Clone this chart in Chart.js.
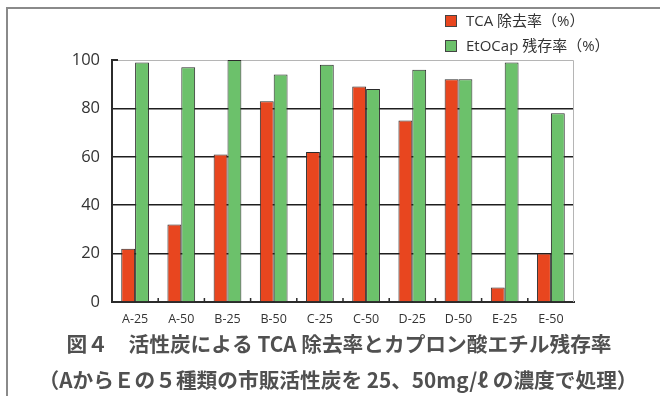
<!DOCTYPE html>
<html lang="ja">
<head>
<meta charset="utf-8">
<title>活性炭による TCA 除去率とカプロン酸エチル残存率</title>
<script src="https://cdn.jsdelivr.net/npm/chart.js@4.4.1/dist/chart.umd.min.js"></script>
<style>
  html, body { margin: 0; padding: 0; background: #fff; }
  #wrap { position: relative; width: 660px; height: 396px; }
  #frame { position: absolute; left: 6px; top: 7px; right: 0; bottom: 0;
           border-left: 2px solid #8a8a8a; border-top: 2px solid #8a8a8a; pointer-events: none; }
  canvas { position: absolute; left: 0; top: 0; }
</style>
</head>
<body>
<div id="wrap">
  <canvas id="chart" width="660" height="396"></canvas>
  <div id="frame"></div>
</div>
<script>
// 試料（活性炭の種類と添加濃度 mg/ℓ）
const categories = ['A-25', 'A-50', 'B-25', 'B-50', 'C-25', 'C-50', 'D-25', 'D-50', 'E-25', 'E-50'];
// TCA 除去率（%）
const tcaRemoval = [22, 32, 61, 83, 62, 89, 75, 92, 6, 20];
// カプロン酸エチル（EtOCap）残存率（%）
const etocapResidual = [99, 97, 100, 94, 98, 88, 96, 92, 99, 78];
const yTicks = [0, 20, 40, 60, 80, 100];
const seriesLabels = ['TCA 除去率（%）', 'EtOCap 残存率（%）'];
const titleLines = [
  '図４　活性炭による TCA 除去率とカプロン酸エチル残存率',
  '（AからＥの５種類の市販活性炭を 25、50mg/ℓ の濃度で処理）'
];

const RED = '#e8461f';
const GREEN = '#6cc16b';
const EDGE = '#2b2b2b';
const LATIN = '"Open Sans", "Noto Sans CJK JP", sans-serif';
const JP = '"Noto Sans CJK JP", "Open Sans", sans-serif';

// 枠（上・右の細線）、100 の目盛り、x 軸の区切り目盛り
const framePlugin = {
  id: 'frameLines',
  beforeDatasetsDraw(chart) {
    const { ctx, chartArea: a, scales } = chart;
    ctx.save();
    ctx.strokeStyle = '#b5b5b5';
    ctx.lineWidth = 1;
    ctx.beginPath();
    ctx.moveTo(a.left, a.top + 0.5);
    ctx.lineTo(a.right - 0.5, a.top + 0.5);
    ctx.lineTo(a.right - 0.5, a.bottom);
    ctx.stroke();
    const yTop = scales.y.getPixelForValue(100);
    ctx.strokeStyle = EDGE;
    ctx.lineWidth = 2;
    ctx.beginPath();
    ctx.moveTo(a.left, yTop);
    ctx.lineTo(a.left + 6, yTop);
    ctx.stroke();
    ctx.restore();
  },
  afterDatasetsDraw(chart) {
    const { ctx, chartArea: a, scales } = chart;
    const x = scales.x;
    ctx.save();
    ctx.strokeStyle = EDGE;
    ctx.lineWidth = 1.5;
    ctx.beginPath();
    for (let i = 1; i < categories.length; i++) {
      const px = (x.getPixelForTick(i - 1) + x.getPixelForTick(i)) / 2;
      ctx.moveTo(px, a.bottom);
      ctx.lineTo(px, a.bottom - 4);
    }
    ctx.stroke();
    ctx.restore();
  }
};

// 凡例（右上・縦並び）
const legendPlugin = {
  id: 'cornerLegend',
  afterDraw(chart) {
    const { ctx } = chart;
    const colors = [RED, GREEN];
    ctx.save();
    ctx.font = '15px ' + LATIN;
    ctx.textBaseline = 'middle';
    seriesLabels.forEach((label, i) => {
      const cy = 21 + i * 25;
      ctx.fillStyle = colors[i];
      ctx.fillRect(445, cy - 6, 12, 12);
      ctx.strokeStyle = '#444';
      ctx.lineWidth = 1;
      ctx.strokeRect(445.5, cy - 5.5, 11, 11);
      ctx.fillStyle = '#333';
      ctx.fillText(label, 466, cy + 1);
    });
    ctx.restore();
  }
};

// 図の表題（2 行）
const captionPlugin = {
  id: 'caption',
  afterDraw(chart) {
    const { ctx } = chart;
    ctx.save();
    ctx.font = 'bold 20.7px ' + JP;
    ctx.fillStyle = '#505050';
    ctx.textAlign = 'center';
    ctx.textBaseline = 'middle';
    ctx.fillText(titleLines[0], 339, 344);
    ctx.fillText(titleLines[1], 338, 380);
    ctx.restore();
  }
};

new Chart(document.getElementById('chart'), {
  type: 'bar',
  data: {
    labels: categories,
    datasets: [
      { label: seriesLabels[0], data: tcaRemoval, backgroundColor: RED,
        borderColor: EDGE, borderWidth: 1 },
      { label: seriesLabels[1], data: etocapResidual, backgroundColor: GREEN,
        borderColor: EDGE, borderWidth: 1 }
    ]
  },
  options: {
    responsive: false,
    animation: false,
    devicePixelRatio: 1,
    layout: { padding: { left: 0, right: 86, top: 60, bottom: 58 } },
    datasets: { bar: { categoryPercentage: 0.6, barPercentage: 1.0 } },
    plugins: {
      legend: { display: false },
      title: { display: false },
      tooltip: { enabled: false }
    },
    scales: {
      x: {
        afterFit(scale) { scale.height = 36; },
        grid: { drawOnChartArea: false, drawTicks: false },
        border: { display: true, color: EDGE, width: 2 },
        ticks: { color: '#333', font: { family: LATIN, size: 12.5 }, padding: 10, maxRotation: 0 }
      },
      y: {
        min: 0,
        max: 100,
        afterFit(scale) { scale.width = 112; },
        afterBuildTicks(scale) { scale.ticks = yTicks.map(v => ({ value: v })); },
        grid: {
          drawTicks: false,
          color: ctx => (ctx.tick && ctx.tick.value > 0 && ctx.tick.value < 100) ? '#1e1e1e' : 'rgba(0,0,0,0)',
          lineWidth: 1.5
        },
        border: { display: true, color: EDGE, width: 2 },
        ticks: { color: '#333', font: { family: LATIN, size: 16.5 }, padding: 12 }
      }
    }
  },
  plugins: [framePlugin, legendPlugin, captionPlugin]
});
</script>
</body>
</html>
